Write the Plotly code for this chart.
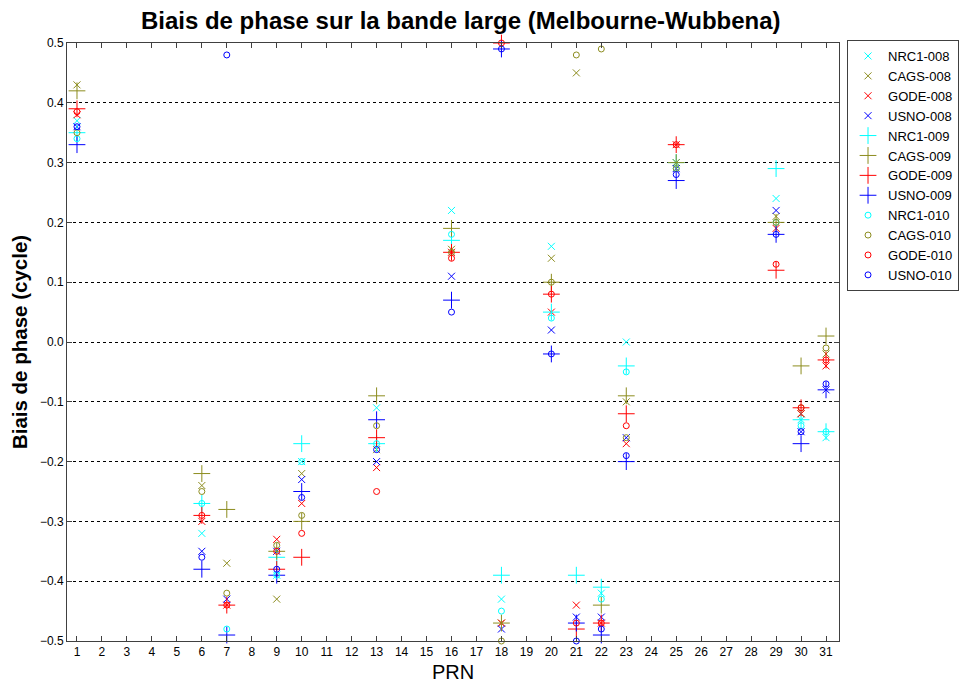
import plotly.graph_objects as go

# Satellites (PRN) for which a wide-lane phase bias was estimated
prn = [1, 6, 7, 9, 10, 13, 16, 18, 20, 21, 22, 23, 25, 29, 30, 31]

# Wide-lane phase biases (cycles) per station and day; None = no estimate
nrc1_008 = [0.37, -0.32, None, -0.39, -0.20, -0.11, 0.22, -0.43, 0.16, None, -0.42, 0.00, 0.30, 0.24, -0.13, -0.16]
cags_008 = [0.43, -0.24, -0.37, -0.43, -0.22, -0.18, 0.155, -0.47, 0.14, 0.45, None, -0.10, 0.30, 0.21, -0.12, -0.02]
gode_008 = [0.38, -0.30, -0.44, -0.33, -0.27, -0.21, 0.15, -0.47, 0.05, -0.44, -0.47, -0.17, 0.33, 0.19, -0.12, -0.04]
usno_008 = [0.36, -0.35, -0.43, -0.35, -0.23, -0.20, 0.11, -0.48, 0.02, -0.46, -0.46, -0.16, 0.29, 0.22, -0.15, -0.08]
nrc1_009 = [0.35, -0.27, None, -0.36, -0.17, -0.17, 0.17, -0.39, 0.05, -0.39, -0.41, -0.04, 0.30, 0.29, -0.13, -0.15]
cags_009 = [0.42, -0.22, -0.28, -0.35, -0.30, -0.09, 0.19, -0.47, 0.10, None, -0.44, -0.09, 0.30, 0.20, -0.04, 0.01]
gode_009 = [0.39, -0.29, -0.44, -0.38, -0.36, -0.16, 0.15, 0.50, 0.08, -0.48, -0.47, -0.12, 0.33, 0.12, -0.11, -0.03]
usno_009 = [0.33, -0.38, -0.49, -0.39, -0.25, -0.13, 0.07, 0.49, -0.02, -0.47, -0.49, -0.20, 0.27, 0.18, -0.17, -0.08]
nrc1_010 = [0.34, -0.27, -0.48, -0.39, -0.20, -0.17, 0.18, -0.45, 0.04, None, -0.43, -0.05, 0.29, 0.20, -0.14, -0.15]
cags_010 = [0.35, -0.25, -0.42, -0.34, -0.29, -0.14, 0.15, -0.50, 0.10, 0.48, 0.49, -0.16, 0.29, 0.20, -0.11, -0.01]
gode_010 = [0.385, -0.29, -0.44, -0.35, -0.32, -0.25, 0.14, 0.50, 0.08, -0.47, -0.47, -0.14, 0.33, 0.13, -0.11, -0.03]
usno_010 = [0.36, -0.36, 0.48, -0.38, -0.26, -0.18, 0.05, 0.49, -0.02, -0.50, -0.48, -0.19, 0.28, 0.18, -0.15, -0.07]

y_ticks = [-0.5, -0.4, -0.3, -0.2, -0.1, 0.0, 0.1, 0.2, 0.3, 0.4, 0.5]

station_colors = {"NRC1": "#00ffff", "CAGS": "#8c8c1e", "GODE": "#ff0000", "USNO": "#0000ff"}
day_symbols = {"008": ("x-thin-open", 7), "009": ("cross-thin-open", 12), "010": ("circle-open", 6)}

series = [
    ("NRC1", "008", nrc1_008), ("CAGS", "008", cags_008), ("GODE", "008", gode_008), ("USNO", "008", usno_008),
    ("NRC1", "009", nrc1_009), ("CAGS", "009", cags_009), ("GODE", "009", gode_009), ("USNO", "009", usno_009),
    ("NRC1", "010", nrc1_010), ("CAGS", "010", cags_010), ("GODE", "010", gode_010), ("USNO", "010", usno_010),
]

fig = go.Figure()
for station, day, values in series:
    color = station_colors[station]
    symbol, size = day_symbols[day]
    fig.add_trace(go.Scatter(
        x=prn, y=values, mode="markers", name=f"{station}-{day}",
        cliponaxis=False,
        marker=dict(symbol=symbol, size=size, color=color,
                    line=dict(width=1, color=color)),
    ))

axis_common = dict(
    showline=True, linecolor="#404040", linewidth=1, mirror="ticks",
    ticks="inside", ticklen=5, tickcolor="#404040", tickwidth=1,
    tickfont=dict(family="Liberation Sans, Arial, sans-serif", size=12, color="#000000"),
    zeroline=False,
)

fig.update_layout(
    width=963, height=686,
    margin=dict(l=67, r=124, t=43, b=45, autoexpand=False),
    paper_bgcolor="white", plot_bgcolor="white",
    font=dict(family="Liberation Sans, Arial, sans-serif", color="#000000"),
    title=dict(text="<b>Biais de phase sur la bande large (Melbourne-Wubbena)</b>",
               x=0.51, xref="paper", xanchor="center", y=0.97, yanchor="middle",
               font=dict(size=24)),
    xaxis=dict(range=[0.6, 31.52], tickmode="array", tickvals=list(range(1, 32)),
               showgrid=False,
               title=dict(text="PRN", font=dict(size=20), standoff=6),
               **axis_common),
    yaxis=dict(range=[-0.5, 0.5], tickmode="array", tickvals=y_ticks,
               tickformat=".1f",
               showgrid=True, gridcolor="#000000", gridwidth=1, griddash="3px,3px",
               title=dict(text="<b>Biais de phase (cycle)</b>", font=dict(size=20.5), standoff=6),
               **axis_common),
    legend=dict(x=1.0104, xanchor="left", y=1.005, yanchor="top",
                bordercolor="#404040", borderwidth=1, bgcolor="white",
                font=dict(size=13), tracegroupgap=0, itemwidth=30),
)

fig.write_html("out.html")
